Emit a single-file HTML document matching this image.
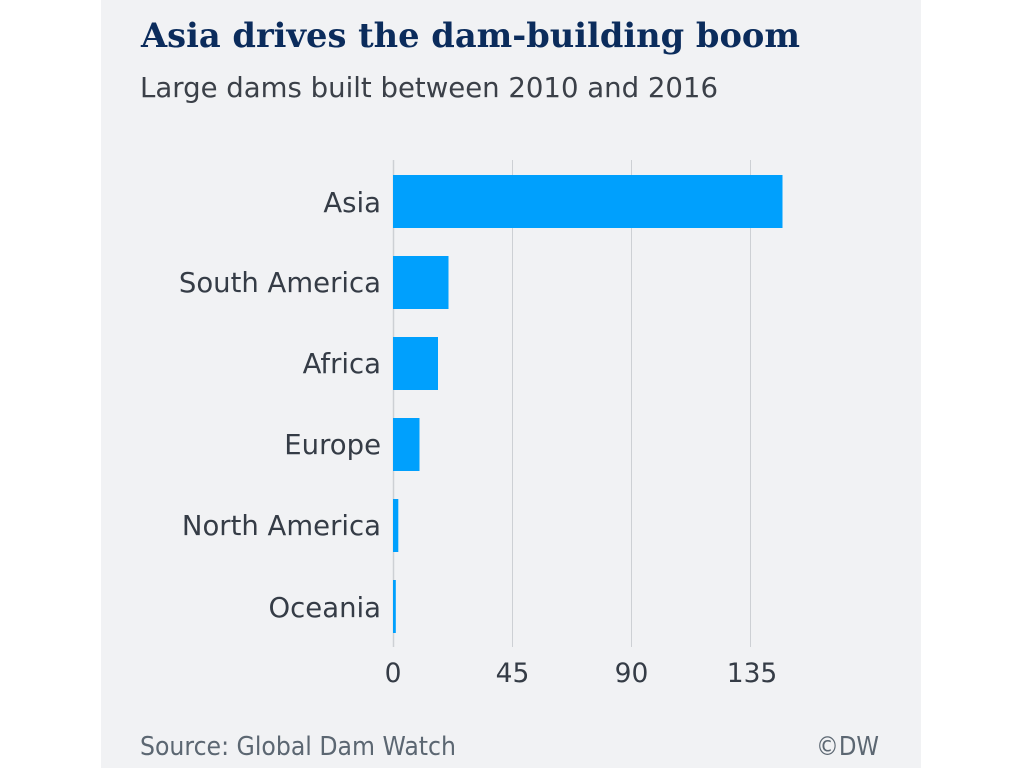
<!DOCTYPE html>
<html>
<head>
<meta charset="utf-8">
<style>
  html,body{margin:0;padding:0;background:#ffffff;}
  svg{display:block;}
</style>
</head>
<body>
<svg width="1024" height="768" viewBox="0 0 1024 768" xmlns="http://www.w3.org/2000/svg">
  <rect x="0" y="0" width="1024" height="768" fill="#ffffff"/>
  <rect x="101" y="0" width="820" height="768" fill="#f1f2f4"/>

  <!-- Title -->
  <text x="141" y="47" font-family="'DejaVu Serif', 'Liberation Serif', serif" font-weight="bold" font-size="34" fill="#0b2c5c" textLength="659" lengthAdjust="spacingAndGlyphs">Asia drives the dam-building boom</text>
  <!-- Subtitle -->
  <text x="140" y="97" font-family="'DejaVu Sans', 'Liberation Sans', sans-serif" font-size="28" fill="#3b4048" textLength="578" lengthAdjust="spacingAndGlyphs">Large dams built between 2010 and 2016</text>

  <!-- Gridlines -->
  <g stroke="#cdd0d4" stroke-width="1">
    <line x1="393.5" y1="160" x2="393.5" y2="647" stroke-width="1.5"/>
    <line x1="512.5" y1="160" x2="512.5" y2="647"/>
    <line x1="631.5" y1="160" x2="631.5" y2="647"/>
    <line x1="750.5" y1="160" x2="750.5" y2="647"/>
  </g>

  <!-- Bars -->
  <g fill="#00a0fd">
    <rect x="393" y="175" width="389.5" height="53"/>
    <rect x="393" y="256" width="55.5" height="53"/>
    <rect x="393" y="337" width="45" height="53"/>
    <rect x="393" y="418" width="26.5" height="53"/>
    <rect x="393" y="499" width="5.3" height="53"/>
    <rect x="393" y="580" width="2.8" height="53"/>
  </g>

  <!-- Category labels -->
  <g font-family="'DejaVu Sans', 'Liberation Sans', sans-serif" font-size="27.5" fill="#353c46" text-anchor="end">
    <text x="381" y="212">Asia</text>
    <text x="381" y="292">South America</text>
    <text x="381" y="373">Africa</text>
    <text x="381" y="454">Europe</text>
    <text x="381" y="535">North America</text>
    <text x="381" y="617">Oceania</text>
  </g>

  <!-- Tick labels -->
  <g font-family="'DejaVu Sans', 'Liberation Sans', sans-serif" font-size="26.5" fill="#353c46" text-anchor="middle">
    <text x="393" y="682">0</text>
    <text x="512.5" y="682">45</text>
    <text x="631.5" y="682">90</text>
    <text x="752" y="682">135</text>
  </g>

  <!-- Footer -->
  <text x="140" y="755" font-family="'DejaVu Sans', 'Liberation Sans', sans-serif" font-size="26" fill="#5c6772" textLength="316" lengthAdjust="spacingAndGlyphs">Source: Global Dam Watch</text>
  <text x="816" y="755" font-family="'DejaVu Sans', 'Liberation Sans', sans-serif" font-size="26" fill="#5c6772" textLength="63" lengthAdjust="spacingAndGlyphs">©DW</text>
</svg>
</body>
</html>
